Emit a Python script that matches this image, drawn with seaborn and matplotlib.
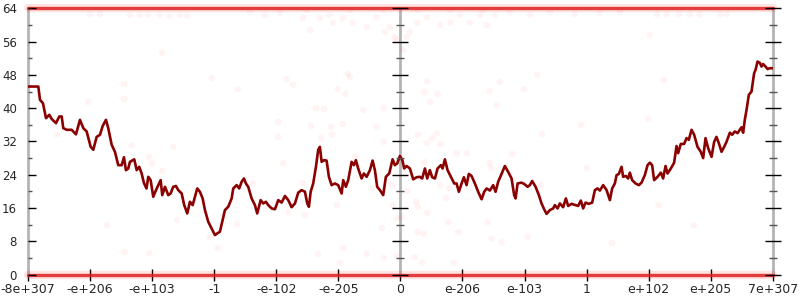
import matplotlib
matplotlib.use("Agg")
import matplotlib.pyplot as plt
import seaborn as sns
import numpy as np
from matplotlib.ticker import MultipleLocator

# ---- data (x in tick-position units: -6 .. 6) ----
tick_pos = [-6, -5, -4, -3, -2, -1, 0, 1, 2, 3, 4, 5, 6]
tick_labels = ["-8e+307", "-e+206", "-e+103", "-1", "-e-102", "-e-205", "0",
               "e-206", "e-103", "1", "e+102", "e+205", "7e+307"]
y_ticks = [0, 8, 16, 24, 32, 40, 48, 56, 64]

line_x = [-6.0, -5.834, -5.807, -5.759, -5.710, -5.657, -5.618, -5.549, -5.496, -5.457,
          -5.432, -5.377, -5.296, -5.227, -5.163, -5.109, -5.055, -4.990, -4.948, -4.894,
          -4.840, -4.797, -4.744, -4.707, -4.652, -4.599, -4.546, -4.491, -4.454, -4.422,
          -4.385, -4.357, -4.288, -4.249, -4.207, -4.169, -4.132, -4.091, -4.062, -4.024,
          -3.982, -3.938, -3.901, -3.863, -3.837, -3.793, -3.740, -3.702, -3.660, -3.616,
          -3.579, -3.524, -3.483, -3.434, -3.391, -3.347, -3.310, -3.273, -3.230, -3.186,
          -3.149, -3.096, -3.041, -2.988, -2.951, -2.908, -2.864, -2.827, -2.774, -2.719,
          -2.693, -2.638, -2.597, -2.558, -2.521, -2.489, -2.452, -2.397, -2.344, -2.307,
          -2.252, -2.210, -2.167, -2.129, -2.075, -2.022, -1.968, -1.914, -1.860, -1.807,
          -1.753, -1.699, -1.646, -1.591, -1.538, -1.501, -1.474, -1.446, -1.405, -1.361,
          -1.324, -1.297, -1.269, -1.232, -1.189, -1.152, -1.108, -1.055, -1.002, -0.947,
          -0.921, -0.878, -0.841, -0.786, -0.749, -0.717, -0.680, -0.625, -0.588, -0.544,
          -0.491, -0.448, -0.411, -0.374, -0.330, -0.277, -0.234, -0.180, -0.126, -0.089,
          -0.052, -0.008, 0.032, 0.061, 0.100, 0.153, 0.206, 0.261, 0.314, 0.351,
          0.395, 0.432, 0.475, 0.512, 0.556, 0.599, 0.652, 0.680, 0.717, 0.760,
          0.813, 0.867, 0.905, 0.942, 0.986, 1.023, 1.066, 1.103, 1.147, 1.200,
          1.253, 1.308, 1.350, 1.389, 1.442, 1.495, 1.533, 1.575, 1.630, 1.683,
          1.736, 1.791, 1.833, 1.856, 1.888, 1.949, 1.994, 2.049, 2.086, 2.123,
          2.178, 2.231, 2.274, 2.316, 2.355, 2.408, 2.461, 2.489, 2.532, 2.569,
          2.622, 2.666, 2.703, 2.758, 2.822, 2.864, 2.907, 2.945, 2.983, 3.036,
          3.090, 3.133, 3.176, 3.214, 3.267, 3.322, 3.375, 3.412, 3.455, 3.483,
          3.520, 3.563, 3.589, 3.632, 3.669, 3.697, 3.734, 3.789, 3.842, 3.885,
          3.938, 3.982, 4.019, 4.056, 4.088, 4.143, 4.196, 4.233, 4.272, 4.304,
          4.357, 4.410, 4.449, 4.475, 4.518, 4.571, 4.610, 4.647, 4.691, 4.733,
          4.787, 4.840, 4.878, 4.916, 4.958, 5.013, 5.055, 5.093, 5.130, 5.174,
          5.216, 5.254, 5.308, 5.345, 5.388, 5.432, 5.469, 5.496, 5.522, 5.549,
          5.577, 5.614, 5.657, 5.699, 5.722, 5.754, 5.791, 5.818, 5.844, 5.883,
          5.915, 5.952, 6.0]
line_y = [45.2, 45.2, 42.0, 41.2, 37.6, 38.4, 37.4, 36.4, 38.0, 38.0,
          35.2, 34.8, 34.8, 33.7, 37.2, 35.2, 34.4, 30.7, 30.0, 33.1,
          33.6, 35.7, 37.2, 35.2, 31.2, 29.5, 26.3, 26.3, 28.2, 25.1,
          25.5, 27.1, 27.7, 25.1, 25.9, 24.3, 22.0, 20.7, 23.5, 22.7,
          18.7, 20.3, 21.5, 22.7, 19.1, 21.1, 19.1, 19.5, 21.1, 21.3,
          20.3, 19.5, 16.7, 14.7, 17.5, 16.7, 18.7, 20.7, 19.9, 18.3,
          15.5, 12.7, 11.1, 9.5, 9.9, 10.3, 13.1, 15.5, 16.3, 18.3,
          20.7, 21.5, 20.7, 22.3, 23.1, 21.9, 21.1, 18.3, 16.7, 14.7,
          17.9, 17.1, 17.5, 16.7, 15.9, 15.7, 17.9, 17.3, 18.9, 17.9,
          16.2, 17.1, 19.7, 20.3, 19.9, 17.1, 16.3, 19.9, 21.9, 25.9,
          30.0, 30.7, 27.1, 27.5, 27.4, 23.5, 21.5, 21.9, 21.5, 19.5,
          22.7, 21.1, 22.7, 27.1, 26.3, 27.5, 25.5, 23.1, 24.3, 23.5,
          25.1, 27.4, 25.1, 21.1, 20.3, 19.1, 23.5, 24.3, 27.7, 26.3,
          26.7, 28.5, 27.5, 25.5, 26.1, 25.5, 22.9, 23.4, 23.5, 23.1,
          25.5, 23.1, 25.1, 23.4, 23.1, 25.5, 26.3, 25.5, 27.7, 25.1,
          23.5, 21.9, 21.9, 19.9, 21.9, 23.4, 21.5, 24.2, 23.7, 21.9,
          19.9, 18.1, 19.9, 20.7, 20.2, 21.5, 19.9, 22.3, 24.2, 26.1,
          24.7, 23.1, 19.1, 18.3, 21.9, 22.1, 21.8, 21.1, 21.5, 22.5,
          21.1, 19.1, 17.1, 15.7, 14.6, 15.5, 15.9, 16.7, 15.9, 17.1,
          16.2, 18.3, 16.5, 17.0, 16.7, 16.5, 17.8, 15.9, 17.3, 17.0,
          17.3, 20.3, 20.7, 20.2, 21.5, 20.3, 17.9, 20.7, 21.9, 23.9,
          24.2, 25.9, 23.5, 23.7, 23.1, 24.5, 22.7, 21.9, 21.5, 22.1,
          23.9, 26.3, 26.9, 26.3, 22.7, 23.5, 24.5, 23.1, 26.1, 24.3,
          25.5, 26.9, 30.9, 29.2, 31.4, 31.4, 32.8, 32.4, 34.8, 33.6,
          30.7, 29.5, 28.0, 32.8, 30.4, 28.3, 31.9, 33.1, 31.6, 29.5,
          30.7, 31.9, 34.1, 33.6, 34.4, 34.0, 34.8, 35.4, 34.1, 37.2,
          39.6, 43.2, 44.0, 48.4, 49.2, 51.2, 50.9, 50.0, 50.6, 50.0,
          49.4, 49.6, 49.6]

# saturated sample bands (clipped values at the bounds)
band_levels = [0, 64]

# individual faint samples
pts_x = [-5.0, -4.84, -4.36, -4.20, -4.07, -3.88, -3.72, -3.55, -3.44,
         -1.57, -1.46, -1.30, -1.14, -1.09, -0.93, -0.77, -0.54, -0.38, -0.25,
         -0.17, -0.09, -0.06, 0.10, 0.15, 0.27, 0.43, 0.64, 0.80, 0.96, 1.12,
         1.28, 1.39, 1.52, -1.51, -0.81, -0.28, 0.27, 0.80, 1.33,
         -2.42, -2.18, -1.94, 1.76, 2.09, 2.41, 2.81, 3.21, 3.54,
         4.13, 4.29, 4.49, 4.66, 4.82, 5.15, 5.26, 4.02,
         -3.84, -4.45, -4.45, -1.01, -0.81, 0.43, 0.60, 1.60, 1.44, 0.04,
         -5.03, -5.53, -4.33, -4.05, -4.73, -3.04, -2.62, -4.00, -3.66, -3.84,
         -3.60, -2.63, -3.07, -2.38, -2.94, -1.83, -1.73, -0.85, -0.89, -1.36,
         -1.23, -0.60, -0.27, -1.97, -1.44, -0.93, -1.12, -0.38, -1.97, -1.28,
         -1.10, -0.27, -1.89, -0.73, -1.57, -0.14, -0.46, -1.02, -0.12, -1.81,
         -1.54, -0.06, 0.02, -0.30, -0.93, 0.39, 0.48, 1.99, 1.55, 0.28,
         0.43, 0.51, 0.59, 0.65, 0.91, 1.07, 1.80, 0.39, 1.44, 1.46,
         0.64, 0.78, 0.12, 0.73, 0.25, 0.28, 0.43, 0.77, 1.41, 0.28,
         0.38, 0.93, 1.47, 1.63, 2.21, 2.28, 2.91, 3.00, 2.26, 2.05,
         3.41, 4.24, 4.00, 4.16, 4.73, -4.45, -4.05, -1.33, -0.54, -0.97,
         -0.06, 0.23, 0.35, 0.86, -0.27]
pts_y = [62.6, 62.6, 62.4, 62.4, 62.4, 62.4, 62.2, 62.4, 62.2,
         61.7, 58.8, 61.7, 62.4, 60.5, 61.7, 60.5, 59.5, 61.9, 58.3,
         59.5, 57.1, 56.4, 57.1, 58.3, 60.5, 61.9, 60.0, 60.5, 62.4, 60.5,
         62.4, 60.0, 62.4, 63.6, 63.6, 63.6, 63.6, 63.6, 63.6,
         63.1, 62.4, 62.9, 63.1, 62.4, 63.1, 62.6, 62.9, 63.1,
         62.6, 62.6, 62.6, 62.6, 62.6, 62.6, 62.6, 57.6,
         53.3, 45.8, 42.2, 44.6, 47.5, 46.5, 43.4, 46.3, 44.1, 54.0,
         41.5, 33.6, 31.1, 28.3, 11.9, 47.3, 44.6, 26.8, 30.7, 24.9,
         13.1, 12.2, 9.0, 22.0, 6.4, 47.0, 45.6, 48.2, 43.4, 40.0,
         39.8, 39.6, 40.0, 36.7, 35.7, 36.2, 35.5, 35.5, 33.1, 32.8,
         33.6, 31.9, 26.8, 28.3, 22.0, 21.5, 20.8, 16.7, 16.7, 15.0,
         14.3, 13.6, 13.8, 11.2, 6.4, 43.9, 41.5, 44.6, 40.7, 33.6,
         31.6, 32.8, 34.0, 31.4, 29.2, 29.2, 29.0, 27.1, 26.8, 25.6,
         21.5, 20.8, 20.1, 18.4, 17.5, 16.3, 14.8, 12.6, 12.6, 10.2,
         9.8, 10.2, 8.6, 7.8, 48.0, 33.8, 36.0, 25.6, 21.5, 9.0,
         7.6, 46.8, 37.4, 16.7, 11.9, 5.4, 5.2, 5.0, 5.0, 2.8,
         4.5, 4.2, 2.8, 2.8, 4.0]

# ---- plotting ----
sns.set_style("white")
plt.rcParams["font.family"] = ["DejaVu Sans"]

fig = plt.figure(figsize=(8, 3), dpi=100)
ax = fig.add_axes([0.035, 0.0847, 0.931, 0.8876])

grey = "#b4b4b4"

for s in ["top", "right", "left", "bottom"]:
    ax.spines[s].set_visible(False)

# vertical axis lines at the left end, at zero and at the right end
for xv in [tick_pos[0], tick_pos[len(tick_pos) // 2], tick_pos[-1]]:
    ax.axvline(xv, color=grey, lw=2, zorder=1, clip_on=False)

for lv in band_levels:
    ax.axhline(lv, color="#ff2020", alpha=0.12, lw=6, zorder=2, clip_on=False)
    ax.axhline(lv, color="#e02020", alpha=0.85, lw=2.4, zorder=2.1, clip_on=False)

sns.scatterplot(x=pts_x, y=pts_y, color="#ff2020", alpha=0.05, s=22,
                edgecolor="none", ax=ax, zorder=3, legend=False)

sns.lineplot(x=line_x, y=line_y, color="#8b0000", lw=1.9, ax=ax,
             zorder=5, estimator=None, sort=False)

ax.set_xlim(-6, 6)
ax.set_ylim(0, 64)
ax.set_xlabel("")
ax.set_ylabel("")

# main y axis: labels only (ticks drawn by the secondary axes)
ax.set_yticks(y_ticks)
ax.set_yticklabels([str(v) for v in y_ticks])
ax.tick_params(axis="y", which="both", left=False, length=0, pad=8, labelsize=8.5)

ax.set_xticks(tick_pos)
ax.set_xticklabels(tick_labels)
ax.tick_params(axis="x", which="major", direction="inout", length=8, width=1,
               color="black", pad=2, labelsize=9, bottom=True)

# tick marks on the three vertical axes
for loc, dirn, lmaj, lmin in [("left", "in", 6, 3), (0.5, "inout", 11, 6), ("right", "inout", 11, 6)]:
    sec = ax.secondary_yaxis(loc)
    sec.set_zorder(10)
    for s in sec.spines.values():
        s.set_visible(False)
    sec.set_yticks(y_ticks)
    sec.yaxis.set_minor_locator(MultipleLocator(4))
    sec.tick_params(axis="y", which="major", direction=dirn, length=lmaj,
                    width=1, color="black", labelleft=False, labelright=False)
    sec.tick_params(axis="y", which="minor", direction=dirn, length=lmin,
                    width=1, color="#555555")

fig.savefig("out.png", dpi=100)
